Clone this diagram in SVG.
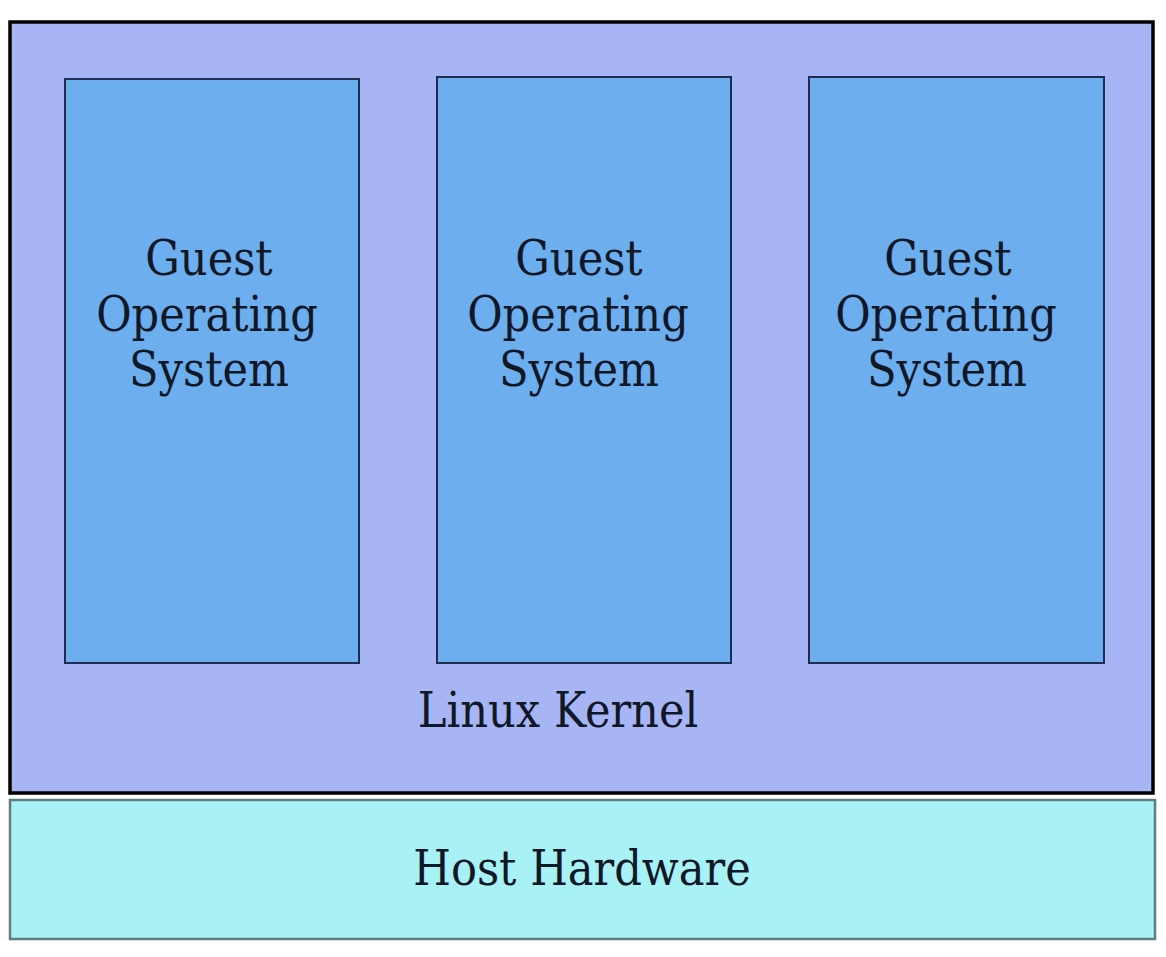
<svg xmlns="http://www.w3.org/2000/svg" width="1166" height="957" viewBox="0 0 1166 957">
<style>
.t{font-family:"DejaVu Serif Condensed","DejaVu Serif","Liberation Serif",serif;font-stretch:condensed;fill:#101828;text-anchor:middle;font-size:48px}
.guest{fill:#6caeee;stroke:#1e2e50;stroke-width:2}
</style>
<rect width="1166" height="957" fill="#ffffff"/>
<g id="kernel">
<rect x="10" y="22" width="1143" height="771" fill="#a7b5f5" stroke="#000000" stroke-width="3.5"/>
<text class="t" x="558" y="727">Linux Kernel</text>
</g>
<g id="guest1">
<rect class="guest" x="65" y="79" width="294" height="584"/>
<text class="t" x="209" y="275">Guest</text>
<text class="t" x="207" y="331">Operating</text>
<text class="t" x="209" y="386">System</text>
</g>
<g id="guest2">
<rect class="guest" x="437" y="77" width="294" height="586"/>
<text class="t" x="579" y="275">Guest</text>
<text class="t" x="578" y="331">Operating</text>
<text class="t" x="579" y="386">System</text>
</g>
<g id="guest3">
<rect class="guest" x="809" y="77" width="295" height="586"/>
<text class="t" x="948" y="275">Guest</text>
<text class="t" x="946" y="331">Operating</text>
<text class="t" x="947" y="386">System</text>
</g>
<g id="hardware">
<rect x="10" y="800" width="1145" height="139" fill="#a8f1f4" stroke="#5e7e7f" stroke-width="2.5"/>
<text class="t" x="582" y="885">Host Hardware</text>
</g>
<g id="connectors"/>
</svg>
